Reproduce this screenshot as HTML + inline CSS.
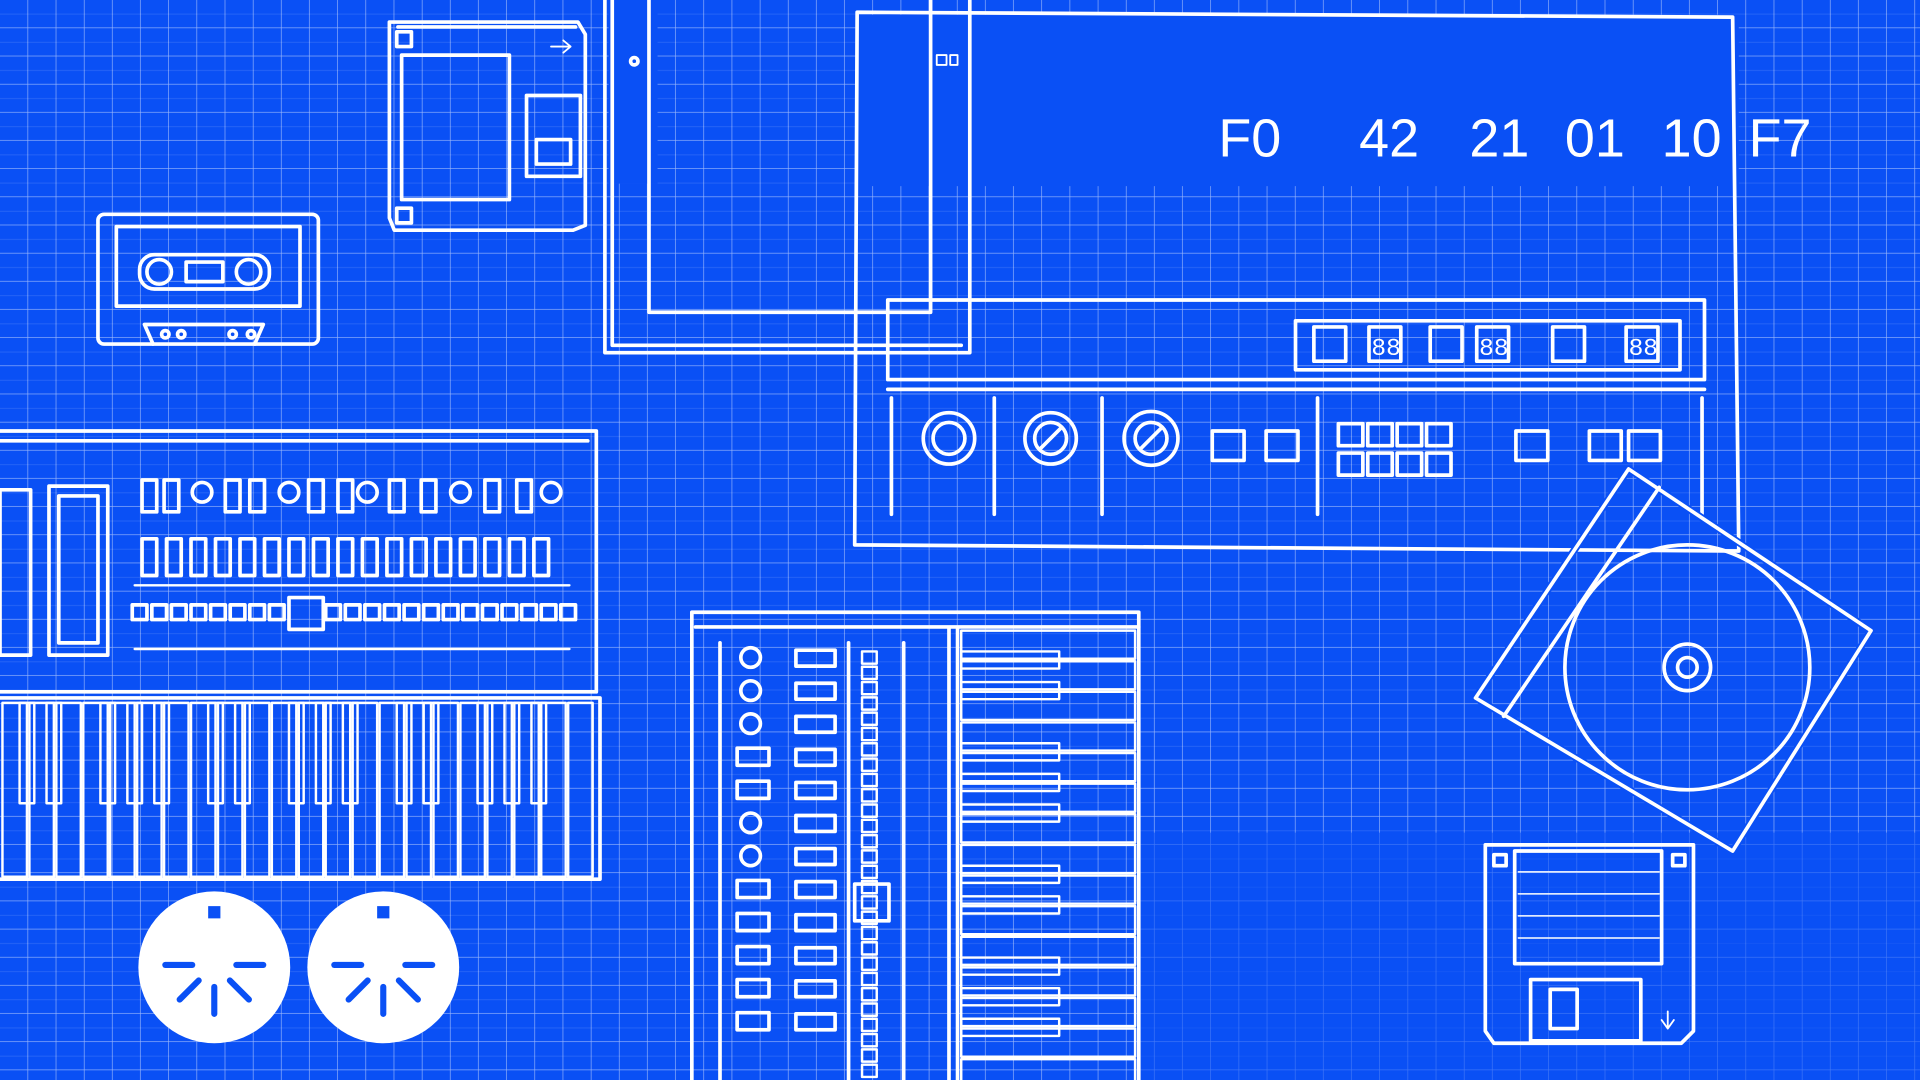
<!DOCTYPE html>
<html><head><meta charset="utf-8">
<style>
html,body{margin:0;padding:0;background:#0a50f5;overflow:hidden}
svg{display:block}
</style></head>
<body>
<svg id="s" width="1920" height="1080" viewBox="0 0 1568 882" xmlns="http://www.w3.org/2000/svg">
<defs>
<pattern id="g" width="23" height="23" patternUnits="userSpaceOnUse">
<path d="M23 0V23M0 23H23" stroke="#ffffff" stroke-opacity="0.6" stroke-width="1" fill="none"/>
<path d="M0 11.5H23" stroke="#ffffff" stroke-opacity="0.15" stroke-width="0.6"/>
</pattern>
</defs>
<rect width="1568" height="882" fill="#0a50f5"/>
<rect width="1568" height="882" fill="url(#g)"/>
<rect x="700" y="12" width="720" height="140" fill="#0a50f5"/>
<rect x="497" y="0" width="40" height="150" fill="#0a50f5"/>
<rect x="930" y="680" width="640" height="202" fill="#0a50f5" opacity="0.6"/>
<g id="w" fill="none" stroke="#fff" stroke-width="3" stroke-linecap="round" stroke-linejoin="round">
<path d="M318 18H472L478 28V184L468 188H322L318 178Z"/>
<rect x="328" y="45" width="88" height="118"/>
<path d="M325 22H470"/>
<rect x="430" y="78" width="44" height="66"/>
<rect x="438" y="114" width="28" height="20"/>
<rect x="324" y="26" width="12" height="12"/><rect x="324" y="170" width="12" height="12"/>
<path d="M450 38H466M460 33L466 38L460 43" stroke-width="1.5"/>
<rect x="80" y="175" width="180" height="106" rx="5"/>
<path d="M95 185H245V250H95Z"/>
<rect x="114" y="208" width="106" height="28" rx="12"/>
<circle cx="130" cy="222" r="10"/><circle cx="203" cy="222" r="10"/>
<rect x="152" y="214" width="30" height="16"/>
<path d="M118 265L125 281M215 265L208 281M118 265H215"/>
<circle cx="135" cy="273" r="3"/><circle cx="148" cy="273" r="3"/><circle cx="190" cy="273" r="3"/><circle cx="205" cy="273" r="3"/>
<path d="M494 0V288H792V0"/>
<path d="M530 0V255H760V0"/>
<path d="M500 0V282H785"/>
<circle cx="518" cy="50" r="3"/>
<path d="M765 45h8v8h-8zM776 45h6v8h-6z" stroke-width="1.5"/>
<path d="M700 10L1415 14L1420 450L698 445Z"/>
<rect x="725" y="245" width="667" height="65"/>
<rect x="1058" y="262" width="314" height="40"/>
<path d="M725 318H1392"/>
<path d="M728 325V420M812 325V420M900 325V420M1076 325V420M1390 325V420"/>
<circle cx="775" cy="358" r="21"/><circle cx="775" cy="358" r="13"/>
<circle cx="858" cy="358" r="21"/><circle cx="858" cy="358" r="13"/><path d="M850 366L866 350"/>
<circle cx="940" cy="358" r="22"/><circle cx="940" cy="358" r="13"/><path d="M932 366L948 350"/>
<rect x="990" y="352" width="26" height="24"/><rect x="1034" y="352" width="26" height="24"/>
<rect x="1238" y="352" width="26" height="24"/><rect x="1298" y="352" width="26" height="24"/><rect x="1330" y="352" width="26" height="24"/>
<path d="M0 352H487V565H0"/>
<path d="M0 360H480"/>
<rect x="0" y="400" width="25" height="135"/>
<rect x="40" y="397" width="48" height="138"/><rect x="48" y="405" width="32" height="120"/>
<path d="M110 478H465M110 530H465" stroke-width="2"/>
<path d="M0 570H490V718H0"/>
<path d="M565 500H930V882M565 500V882"/>
<path d="M568 512H930M775 512V882M782 512V882"/>
<path d="M588 525V882M693 525V882M738 525V882"/>
<!-- cd case -->
<path d="M1330 383L1528 515L1415 695L1205 570Z" stroke="#0a50f5" stroke-width="6" fill="#0a50f5" fill-opacity="0"/>
<path d="M1330 383L1528 515L1415 695L1205 570Z"/>
<path d="M1355 398L1228 585"/>
<circle cx="1378" cy="545" r="100"/>
<circle cx="1378" cy="545" r="19"/><circle cx="1378" cy="545" r="8"/>
<path d="M1213 690H1383V842L1373 852H1220L1213 842Z"/>
<rect x="1237" y="695" width="120" height="92"/>
<path d="M1240 712H1355M1240 730H1355M1240 748H1355M1240 766H1355" stroke-width="1.2"/>
<rect x="1250" y="800" width="90" height="50"/>
<rect x="1266" y="808" width="22" height="32"/>
<rect x="1220" y="698" width="10" height="9"/><rect x="1366" y="698" width="10" height="9"/>
<path d="M1362 826V838M1357 833L1362 840L1367 833" stroke-width="1.5"/>
</g>
<circle cx="175" cy="790" r="62" fill="#fff"/>
<circle cx="313" cy="790" r="62" fill="#fff"/>
<g stroke="#0a50f5" stroke-width="5" stroke-linecap="round" id="midi"></g>
<g fill="#fff" font-family="Liberation Sans, sans-serif" font-size="44">
<text x="995" y="128">F0</text><text x="1110" y="128">42</text><text x="1200" y="128">21</text><text x="1278" y="128">01</text><text x="1357" y="128">10</text><text x="1428" y="128">F7</text>
</g>
</svg>
<script>
var w=document.getElementById('w'),NS='http://www.w3.org/2000/svg';
function el(t,a,p){var e=document.createElementNS(NS,t);for(var k in a)e.setAttribute(k,a[k]);(p||w).appendChild(e);return e;}
[1085,1130,1180,1218,1280,1340].forEach(function(x,i){el('rect',{x:x-12,y:267,width:26,height:28});if(i%2)el('text',{x:x-10,y:290,fill:'#fff',stroke:'none','font-size':'20','font-family':'Liberation Mono'}).textContent='88';});
for(var r=0;r<2;r++)for(var c=0;c<4;c++)el('rect',{x:1093+c*24,y:346+r*24,width:20,height:18});
var xs=[122,140,165,190,210,236,258,282,300,324,350,376,402,428,450];
xs.forEach(function(x,i){if(i%3==2)el('circle',{cx:x,cy:402,r:8});else el('rect',{x:x-6,y:392,width:12,height:26});});
for(var i=0;i<17;i++)el('rect',{x:116+i*20,y:440,width:12,height:30});
for(var i=0;i<22;i++){if(i==8){el('rect',{x:236,y:488,width:28,height:26});continue;}el('rect',{x:108+i*16+(i>8?14:0),y:494,width:12,height:12});}
for(var i=0;i<22;i++)el('rect',{x:2+i*22,y:574,width:20,height:142,'stroke-width':2});
[0,1,3,4,5,7,8,10,11,12,14,15,17,18,19].forEach(function(k){el('rect',{x:16+k*22,y:574,width:12,height:82,'stroke-width':2});});
for(var i=0;i<12;i++){var y=537+i*27;if(i<3||i==5||i==6)el('circle',{cx:613,cy:y,r:8});else el('rect',{x:602,y:y-7,width:26,height:14});
el('rect',{x:650,y:y-6,width:32,height:13});}
for(var i=0;i<28;i++){el('rect',{x:704,y:532+i*12.5,width:12,height:10,'stroke-width':2});}
el('rect',{x:698,y:722,width:28,height:30});
for(var i=0;i<15;i++)el('rect',{x:785,y:515+i*25,width:142,height:23,'stroke-width':2});
[0,1,3,4,5,7,8,10,11,12].forEach(function(k){el('rect',{x:785,y:532+k*25,width:80,height:14,'stroke-width':2});});
var m=document.getElementById('midi');
[175,313].forEach(function(cx){var cy=788;
for(var a=0;a<5;a++){var t=Math.PI*(a*0.25);var c=Math.cos(t),s=Math.sin(t);
el('line',{x1:cx+c*18,y1:cy+s*18,x2:cx+c*40,y2:cy+s*40},m);}
el('rect',{x:cx-5,y:740,width:10,height:10,fill:'#0a50f5',stroke:'none'},m);});
</script>
</body></html>
